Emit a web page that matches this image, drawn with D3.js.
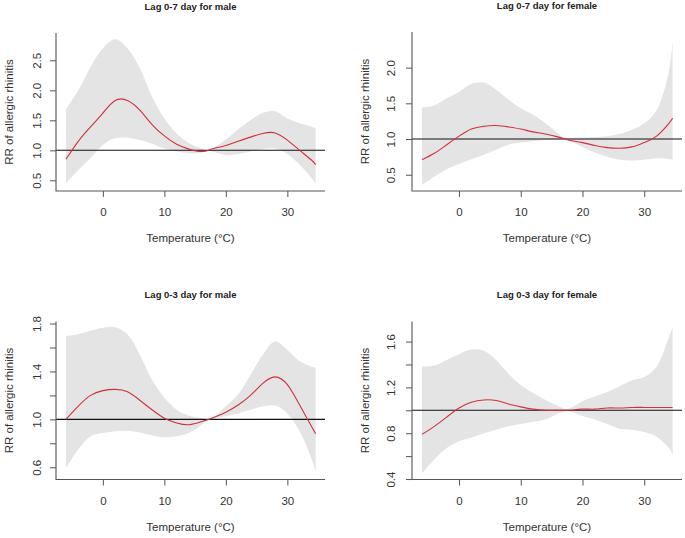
<!DOCTYPE html>
<html>
<head>
<meta charset="utf-8">
<script src="https://cdn.jsdelivr.net/npm/d3@7"></script>
<style>
  html, body { margin: 0; padding: 0; background: #fff; }
  svg { display: block; }
  text { font-family: "Liberation Sans", Arial, Helvetica, sans-serif; }
</style>
</head>
<body>
<svg id="chart" width="685" height="538"></svg>
<script>
// ---------------- data ----------------
const temps = [-6,-4,-2,0,2,4,6,8,10,12,14,16,17.2,18,20,22,24,26,28,30,32,34,34.6];

const titles = ["Lag 0-7 day for male", "Lag 0-7 day for female", "Lag 0-3 day for male", "Lag 0-3 day for female"];

const rrMale07    = [0.85,1.15,1.39,1.62,1.83,1.83,1.67,1.43,1.24,1.10,1.02,0.98,1.00,1.03,1.08,1.15,1.22,1.28,1.29,1.17,1.00,0.83,0.76];
const upMale07    = [1.68,2.00,2.39,2.70,2.85,2.70,2.37,1.89,1.53,1.28,1.12,1.03,1.00,1.04,1.18,1.35,1.50,1.62,1.65,1.53,1.45,1.39,1.37];
const loMale07    = [0.45,0.67,0.87,1.09,1.20,1.21,1.17,1.11,1.03,0.98,0.95,0.96,1.00,0.97,0.92,0.94,0.98,1.02,1.03,0.94,0.76,0.53,0.44];

const rrFemale07  = [0.71,0.80,0.92,1.04,1.14,1.18,1.19,1.17,1.14,1.10,1.07,1.03,1.00,0.98,0.95,0.91,0.88,0.87,0.89,0.95,1.04,1.22,1.29];
const upFemale07  = [1.44,1.47,1.57,1.66,1.77,1.79,1.69,1.55,1.43,1.34,1.22,1.08,1.00,1.01,1.02,1.03,1.04,1.07,1.13,1.22,1.40,1.95,2.36];
const loFemale07  = [0.355,0.47,0.575,0.65,0.715,0.78,0.85,0.92,0.95,0.97,0.985,0.99,1.00,0.97,0.89,0.81,0.75,0.71,0.70,0.71,0.73,0.72,0.71];

const rrMale03    = [1.00,1.11,1.20,1.24,1.25,1.23,1.16,1.08,1.01,0.97,0.955,0.98,1.00,1.015,1.06,1.12,1.20,1.30,1.355,1.29,1.12,0.935,0.88];
const upMale03    = [1.695,1.71,1.74,1.765,1.77,1.71,1.54,1.33,1.18,1.08,1.03,1.01,1.00,1.02,1.11,1.21,1.37,1.54,1.65,1.58,1.485,1.44,1.43];
const loMale03    = [0.59,0.75,0.86,0.886,0.90,0.905,0.89,0.866,0.85,0.86,0.886,0.95,1.00,1.01,1.025,1.05,1.08,1.11,1.115,1.05,0.90,0.66,0.565];

const rrFemale03  = [0.79,0.86,0.94,1.02,1.07,1.09,1.085,1.055,1.03,1.01,1.00,1.00,1.00,1.00,1.01,1.01,1.02,1.02,1.025,1.025,1.025,1.025,1.025];
const upFemale03  = [1.38,1.39,1.44,1.49,1.53,1.52,1.44,1.32,1.22,1.15,1.09,1.04,1.01,1.02,1.08,1.12,1.16,1.21,1.26,1.29,1.38,1.64,1.72];
const loFemale03  = [0.45,0.57,0.67,0.73,0.76,0.80,0.83,0.86,0.88,0.90,0.92,0.97,0.99,0.99,0.95,0.92,0.88,0.84,0.83,0.81,0.77,0.67,0.61];

const xTicks = [0, 10, 20, 30];
const yTicksP1 = [0.5, 1.0, 1.5, 2.0, 2.5];
const yTicksP2 = [0.5, 1.0, 1.5, 2.0];
const yTicksP3 = [0.6, 0.8, 1.0, 1.2, 1.4, 1.6, 1.8];
const yLabelsP3 = [0.6, 1.0, 1.4, 1.8];
const yTicksP4 = [0.4, 0.6, 0.8, 1.0, 1.2, 1.4, 1.6];
const yLabelsP4 = [0.4, 0.8, 1.2, 1.6];

// ---------------- layout ----------------
const panels = [
  { title: titles[0], rr: rrMale07,   up: upMale07,   lo: loMale07,   yT: yTicksP1, yL: yTicksP1, yDom: [0.322, 2.955], box: {l: 56,  r: 325, t: 33,    b: 191},   lab: 15 },
  { title: titles[1], rr: rrFemale07, up: upFemale07, lo: loFemale07, yT: yTicksP2, yL: yTicksP2, yDom: [0.272, 2.499], box: {l: 412, r: 682, t: 32,    b: 191},   lab: 17 },
  { title: titles[2], rr: rrMale03,   up: upMale03,   lo: loMale03,   yT: yTicksP3, yL: yLabelsP3, yDom: [0.498, 1.817], box: {l: 56,  r: 325, t: 321.5, b: 479.5}, lab: 15 },
  { title: titles[3], rr: rrFemale03, up: upFemale03, lo: loFemale03, yT: yTicksP4, yL: yLabelsP4, yDom: [0.396, 1.775], box: {l: 412, r: 682, t: 321.5, b: 479.5}, lab: 17 }
];

const xDom = [-7.62, 36.12];
const svg = d3.select("#chart");
const axisCol = "#555";
const fmt = d3.format(".1f");

panels.forEach(p => {
  const b = p.box;
  const x = d3.scaleLinear().domain(xDom).range([b.l, b.r]);
  const y = d3.scaleLinear().domain(p.yDom).range([b.b, b.t]);
  const g = svg.append("g");

  const rows = temps.map((t, i) => ({ t, rr: p.rr[i], up: p.up[i], lo: p.lo[i] }));

  // CI band
  g.append("path")
    .datum(rows)
    .attr("fill", "#e4e4e4")
    .attr("d", d3.area().curve(d3.curveCatmullRom.alpha(0.5))
      .x(d => x(d.t)).y0(d => y(d.lo)).y1(d => y(d.up)));

  // reference line at RR = 1
  g.append("line")
    .attr("x1", b.l).attr("x2", b.r)
    .attr("y1", y(1)).attr("y2", y(1))
    .attr("stroke", "#111").attr("stroke-width", 1.1);

  // RR curve
  g.append("path")
    .datum(rows)
    .attr("fill", "none")
    .attr("stroke", "#d0303c")
    .attr("stroke-width", 1.1)
    .attr("d", d3.line().curve(d3.curveNatural)
      .x(d => x(d.t)).y(d => y(d.rr)));

  // x axis
  const xa = g.append("g").attr("transform", `translate(0,${b.b})`)
    .call(d3.axisBottom(x).tickValues(xTicks).tickSize(6).tickSizeOuter(0).tickFormat(d3.format("d")));
  xa.select(".domain").remove();
  xa.selectAll(".tick line").attr("stroke", axisCol);
  xa.selectAll(".tick text").attr("y", 0).attr("dy", null)
    .attr("transform", "translate(0,25)")
    .attr("font-size", 11.5).attr("fill", "#333")
    .attr("font-family", '"Liberation Sans", Arial, sans-serif');

  // y axis
  const ya = g.append("g").attr("transform", `translate(${b.l},0)`)
    .call(d3.axisLeft(y).tickValues(p.yT).tickSize(6).tickSizeOuter(0)
      .tickFormat(v => p.yL.some(l => Math.abs(l - v) < 1e-9) ? fmt(v) : ""));
  ya.select(".domain").remove();
  ya.selectAll(".tick line").attr("stroke", axisCol);
  ya.selectAll(".tick text")
    .attr("x", null).attr("dy", null).attr("y", null)
    .attr("text-anchor", "middle")
    .attr("transform", `translate(${-p.lab},0) rotate(-90)`)
    .attr("font-size", 11.5).attr("fill", "#333")
    .attr("font-family", '"Liberation Sans", Arial, sans-serif');

  // L-shaped box
  g.append("path")
    .attr("d", `M${b.l},${b.t}V${b.b}H${b.r}`)
    .attr("fill", "none").attr("stroke", axisCol).attr("stroke-width", 1.1);

  const cx = (b.l + b.r) / 2;
  // title
  g.append("text").attr("x", cx).attr("y", b.t - 23.5)
    .attr("text-anchor", "middle").attr("font-size", 9.5).attr("font-weight", "bold")
    .attr("fill", "#222").text(p.title);
  // x label
  g.append("text").attr("x", cx).attr("y", b.b + 51)
    .attr("text-anchor", "middle").attr("font-size", 11.5).attr("fill", "#333")
    .text("Temperature (°C)");
  // y label
  g.append("text")
    .attr("transform", `translate(${b.l - 43},${(b.t + b.b) / 2}) rotate(-90)`)
    .attr("text-anchor", "middle").attr("font-size", 11.5).attr("fill", "#333")
    .text("RR of allergic rhinitis");
});
</script>
</body>
</html>
